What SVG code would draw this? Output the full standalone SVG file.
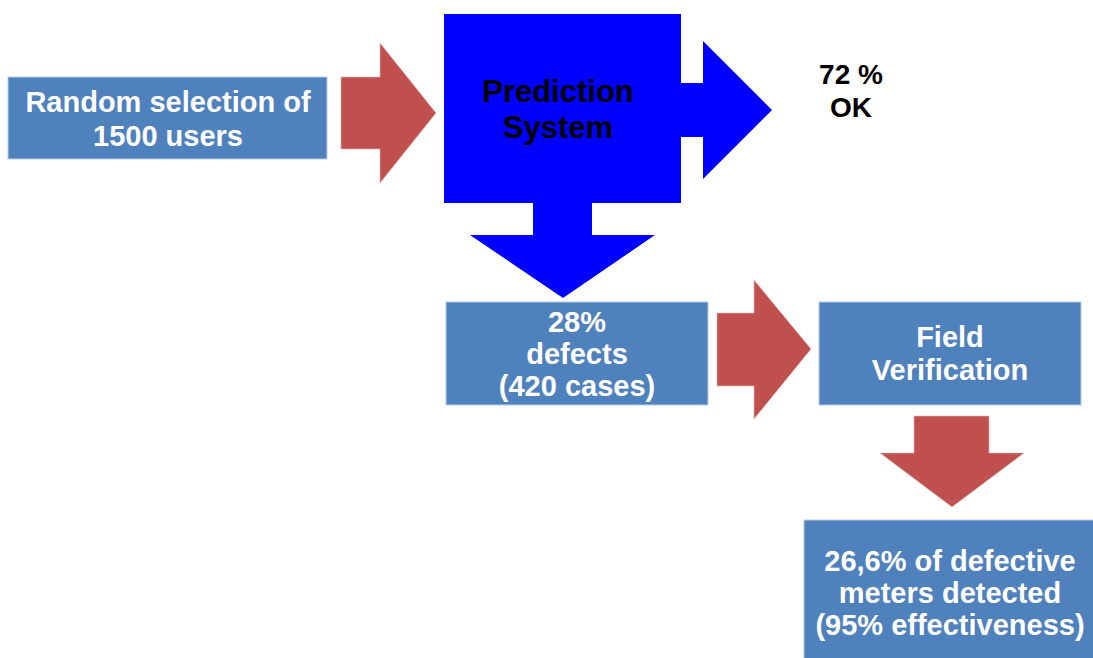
<svg xmlns="http://www.w3.org/2000/svg" width="1093" height="658" viewBox="0 0 1093 658">
<style>
.box{fill:#4F81BD;stroke:#B9CDE5;stroke-width:1}
.red{fill:#C0504D;stroke:#E6B9B8;stroke-width:0.6}
.blue{fill:#0000FF}
text{font-family:"Liberation Sans",Arial,sans-serif;font-weight:bold;text-anchor:middle}
.w{fill:#FFFFFF;font-size:29px}
.k{fill:#000000}
</style>
<rect width="1093" height="658" fill="#FFFFFF"/>
<g id="connectors">
<polygon class="red" points="341,77 380,77 380,43 436,113 380,183 380,149 341,149"/>
<polygon class="blue" points="678,83 703,83 703,41 772,110 703,179 703,137 678,137"/>
<polygon class="blue" points="533,200 592,200 592,235 655,235 563,298 470,235 533,235"/>
<polygon class="red" points="717,313 754,313 754,280 811,349 754,419 754,386 717,386"/>
<polygon class="red" points="914,416 989,416 989,453 1024,453 952,507 880,453 914,453"/>
</g>
<g id="node-random">
<rect class="box" x="8" y="77" width="319" height="82"/>
<text class="w" x="168" y="112">Random selection of</text>
<text class="w" x="168" y="146">1500 users</text>
</g>
<g id="node-prediction">
<rect class="blue" x="444" y="14" width="237" height="189"/>
<text class="k" x="558" y="102" font-size="31">Prediction</text>
<text class="k" x="558" y="138" font-size="31">System</text>
</g>
<g id="node-ok">
<text class="k" x="851" y="84" font-size="28">72 %</text>
<text class="k" x="851" y="117" font-size="28">OK</text>
</g>
<g id="node-defects">
<rect class="box" x="446" y="302" width="262" height="103"/>
<text class="w" x="577" y="332">28%</text>
<text class="w" x="577" y="364">defects</text>
<text class="w" x="577" y="396">(420 cases)</text>
</g>
<g id="node-field">
<rect class="box" x="819" y="302" width="262" height="103"/>
<text class="w" x="950" y="347">Field</text>
<text class="w" x="950" y="380">Verification</text>
</g>
<g id="node-result">
<rect class="box" x="804" y="520" width="295" height="145"/>
<text class="w" x="950" y="571">26,6% of defective</text>
<text class="w" x="950" y="603">meters detected</text>
<text class="w" x="950" y="635">(95% effectiveness)</text>
</g>
</svg>
